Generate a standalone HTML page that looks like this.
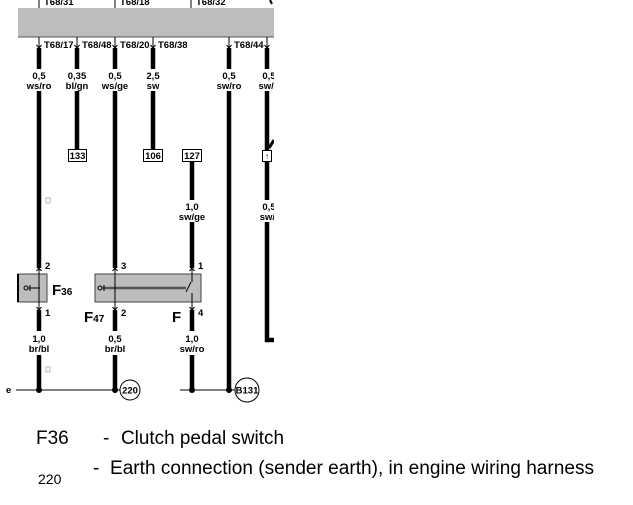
<!DOCTYPE html>
<html><head><meta charset="utf-8"><style>
html,body{margin:0;padding:0;background:#fff;width:633px;height:505px;overflow:hidden}
svg{display:block}
.l{font-family:"Liberation Sans",sans-serif;font-weight:bold;font-size:9.5px;fill:#000}
.b{font-family:"Liberation Sans",sans-serif;font-size:19px;fill:#000}
</style></head><body>
<svg width="633" height="505" viewBox="0 0 633 505">
<defs><clipPath id="c"><rect x="0" y="0" width="274" height="420"/></clipPath></defs>
<g clip-path="url(#c)">
<g stroke="#000" stroke-width="1">
<line x1="39" y1="0" x2="39" y2="8"/><line x1="115" y1="0" x2="115" y2="8"/><line x1="191" y1="0" x2="191" y2="8"/>
</g>
<text class="l" x="44" y="5">T68/31</text><text class="l" x="120" y="5">T68/18</text><text class="l" x="196" y="5">T68/32</text>
<path d="M270 0 L272 4" stroke="#000" stroke-width="2"/>
<rect x="18" y="8" width="260" height="29" fill="#bdbdbd"/>
<line x1="18" y1="37" x2="278" y2="37" stroke="#555" stroke-width="1"/>
<g class="l">
<text x="44" y="48">T68/17</text><text x="82" y="48">T68/48</text><text x="120" y="48">T68/20</text><text x="158" y="48">T68/38</text><text x="234" y="48">T68/44</text>
</g>
<g stroke="#000" stroke-width="1" fill="none">
<path d="M39 37V48M36.5 45L39 48L41.5 45"/><path d="M77 37V48M74.5 45L77 48L79.5 45"/><path d="M115 37V48M112.5 45L115 48L117.5 45"/><path d="M153 37V48M150.5 45L153 48L155.5 45"/><path d="M229 37V48M226.5 45L229 48L231.5 45"/><path d="M267 37V48M264.5 45L267 48L269.5 45"/>
</g>
<g stroke="#000" stroke-width="4.5" fill="none">
<line x1="39" y1="48" x2="39" y2="69"/><line x1="39" y1="91" x2="39" y2="268"/><line x1="39" y1="310" x2="39" y2="331"/><line x1="39" y1="355" x2="39" y2="390"/>
<line x1="77" y1="48" x2="77" y2="69"/><line x1="77" y1="91" x2="77" y2="149"/>
<line x1="115" y1="48" x2="115" y2="69"/><line x1="115" y1="91" x2="115" y2="268"/><line x1="115" y1="310" x2="115" y2="331"/><line x1="115" y1="355" x2="115" y2="390"/>
<line x1="153" y1="48" x2="153" y2="69"/><line x1="153" y1="91" x2="153" y2="149"/>
<line x1="192" y1="161" x2="192" y2="200"/><line x1="192" y1="222" x2="192" y2="268"/><line x1="192" y1="310" x2="192" y2="331"/><line x1="192" y1="355" x2="192" y2="390"/>
<line x1="229" y1="48" x2="229" y2="69"/><line x1="229" y1="91" x2="229" y2="390"/>
<line x1="267" y1="48" x2="267" y2="69"/><line x1="267" y1="91" x2="267" y2="150"/><line x1="267" y1="161" x2="267" y2="200"/><path d="M267 222V340H276"/>
<path d="M269 148L274 140" stroke-width="3"/>
</g>
<g class="l" text-anchor="middle">
<text x="39" y="79">0,5</text><text x="39" y="89">ws/ro</text>
<text x="77" y="79">0,35</text><text x="77" y="89">bl/gn</text>
<text x="115" y="79">0,5</text><text x="115" y="89">ws/ge</text>
<text x="153" y="79">2,5</text><text x="153" y="89">sw</text>
<text x="229" y="79">0,5</text><text x="229" y="89">sw/ro</text>
<text x="269" y="79">0,5</text><text x="269" y="89">sw/g</text>
<text x="192" y="210">1,0</text><text x="192" y="220">sw/ge</text>
<text x="269" y="210">0,5</text><text x="269" y="220">sw/t</text>
<text x="39" y="342">1,0</text><text x="39" y="352">br/bl</text>
<text x="115" y="342">0,5</text><text x="115" y="352">br/bl</text>
<text x="192" y="342">1,0</text><text x="192" y="352">sw/ro</text>
</g>
<g fill="#fff" stroke="#000" stroke-width="1">
<rect x="68.5" y="149.5" width="18" height="12"/><rect x="143.5" y="149.5" width="19" height="12"/><rect x="182.5" y="149.5" width="19" height="12"/><rect x="262.5" y="150.5" width="9" height="11"/>
</g>
<g class="l" text-anchor="middle"><text x="77.5" y="159">133</text><text x="153" y="159">106</text><text x="192" y="159">127</text><text x="267" y="159" font-size="8">↑</text></g>
<rect x="46" y="198" width="4" height="5" fill="none" stroke="#999" stroke-width="0.7"/>
<rect x="46" y="367" width="4" height="5" fill="none" stroke="#999" stroke-width="0.7"/>
<rect x="18" y="274" width="29" height="28" fill="#bdbdbd" stroke="#444" stroke-width="1"/>
<line x1="18" y1="274" x2="18" y2="302" stroke="#000" stroke-width="2"/>
<rect x="95" y="274" width="106" height="28" fill="#bdbdbd" stroke="#444" stroke-width="1"/>
<g stroke="#000" stroke-width="1" fill="none">
<circle cx="26" cy="288" r="2"/><path d="M28 288H40M30 285V291"/>
<circle cx="100" cy="288" r="2"/><path d="M102 288H186" stroke="#555" stroke-width="2.5"/><path d="M104 285V291"/>
<path d="M186 292L191 282"/>
<path d="M39 268V310M36.5 271L39 268L41.5 271M36.5 307L39 310L41.5 307"/>
<path d="M115 268V310M112.5 271L115 268L117.5 271M112.5 307L115 310L117.5 307"/>
<path d="M192 268V282M192 293V310M189.5 271L192 268L194.5 271M189.5 307L192 310L194.5 307"/>
</g>
<g class="l"><text x="45" y="269">2</text><text x="45" y="316">1</text><text x="121" y="269">3</text><text x="121" y="316">2</text><text x="198" y="269">1</text><text x="198" y="316">4</text></g>
<text x="52" y="295" font-family="Liberation Sans,sans-serif" font-weight="bold" font-size="15">F<tspan font-size="10">36</tspan></text>
<text x="84" y="322" font-family="Liberation Sans,sans-serif" font-weight="bold" font-size="15">F<tspan font-size="10">47</tspan></text>
<text x="172" y="322" font-family="Liberation Sans,sans-serif" font-weight="bold" font-size="15">F</text>
<line x1="16" y1="390" x2="120" y2="390" stroke="#000" stroke-width="1"/>
<line x1="180" y1="390" x2="236" y2="390" stroke="#000" stroke-width="1"/>
<g fill="#000"><circle cx="39" cy="390" r="3"/><circle cx="115" cy="390" r="3"/><circle cx="192" cy="390" r="3"/><circle cx="229" cy="390" r="3"/></g>
<text class="l" x="6" y="393">e</text>
<circle cx="130" cy="390" r="10" fill="#fff" stroke="#000" stroke-width="1"/>
<text class="l" x="130" y="393.5" text-anchor="middle">220</text>
<circle cx="247" cy="390" r="12" fill="#fff" stroke="#000" stroke-width="1"/>
<text class="l" x="247" y="393.5" text-anchor="middle">B131</text>
</g>
<text class="b" x="36" y="444">F36</text>
<text class="b" x="103" y="444">-</text>
<text class="b" x="121" y="444" textLength="163" lengthAdjust="spacingAndGlyphs">Clutch pedal switch</text>
<text class="b" x="93" y="474">-</text>
<text class="b" x="110" y="474" textLength="484" lengthAdjust="spacingAndGlyphs">Earth connection (sender earth), in engine wiring harness</text>
<text x="38" y="484" font-family="Liberation Sans,sans-serif" font-size="14" fill="#000">220</text>
</svg>
</body></html>
